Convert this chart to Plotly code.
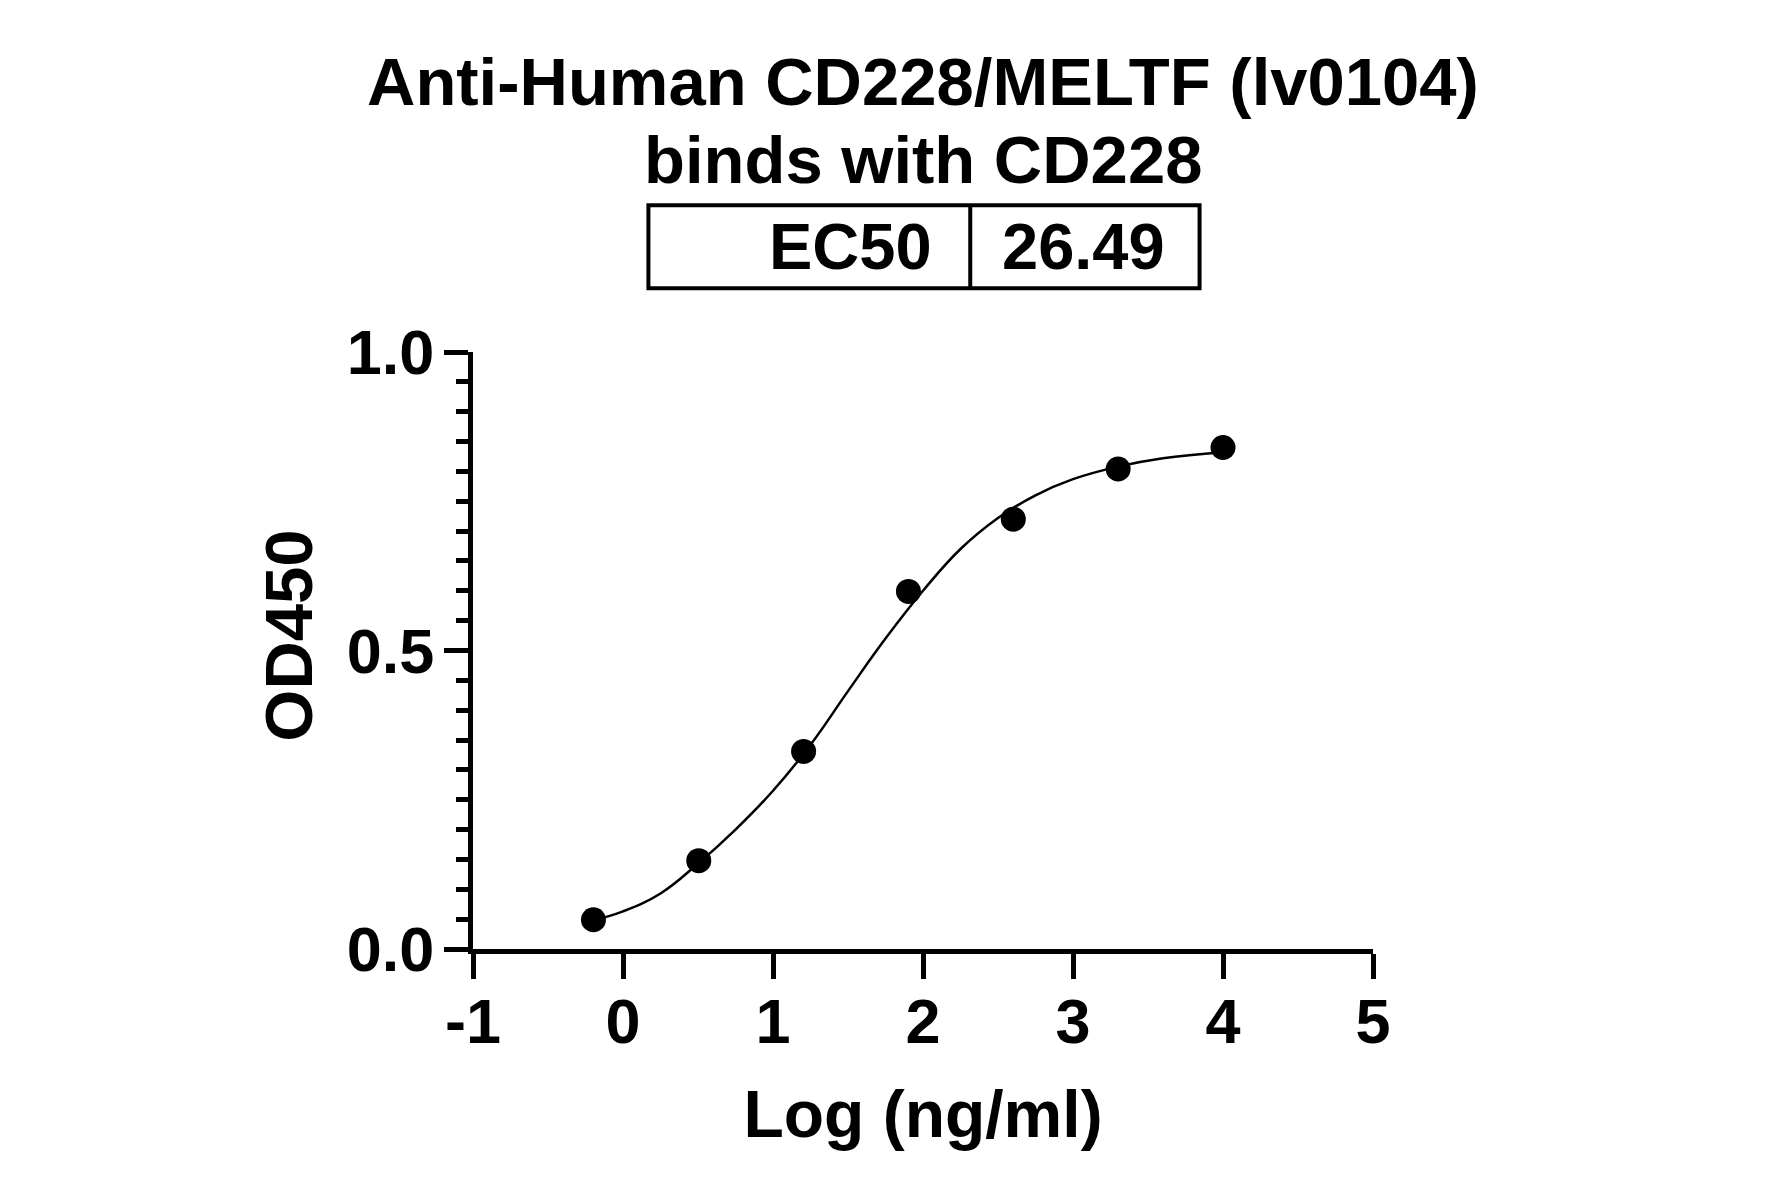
import plotly.graph_objects as go

# measured points, log10 concentration (ng/ml) vs OD450
log_conc = [-0.197, 0.505, 1.204, 1.903, 2.602, 3.301, 4.0]
od450 = [0.049, 0.148, 0.331, 0.599, 0.720, 0.804, 0.840]

# fitted curve
fit_x = [-0.2, 0.0, 0.25, 0.5, 0.75, 1.0, 1.25, 1.5, 1.75, 2.0, 2.25, 2.5, 2.75, 3.0, 3.3, 3.6, 4.0]
fit_y = [0.048, 0.063, 0.093, 0.143, 0.2, 0.265, 0.342, 0.432, 0.52, 0.6, 0.67, 0.722, 0.76, 0.787, 0.808, 0.822, 0.832]

title_lines = ["Anti-Human CD228/MELTF (lv0104)", "binds with CD228"]
ec50_label = "EC50"
ec50_value = "26.49"

x_ticks = [-1, 0, 1, 2, 3, 4, 5]
y_ticks = [0.0, 0.5, 1.0]

FONT = "Liberation Sans, Arial, sans-serif"
BLACK = "#000000"

fig = go.Figure()
fig.add_trace(go.Scatter(
    x=fit_x, y=fit_y, mode="lines",
    line=dict(color=BLACK, width=2.5, shape="spline", smoothing=1.2),
    hoverinfo="skip", showlegend=False,
))
fig.add_trace(go.Scatter(
    x=log_conc, y=od450, mode="markers",
    marker=dict(color=BLACK, size=25, line=dict(width=0)),
    showlegend=False,
))

# page body adds 8px, so margins are taken 8px smaller on the top/left
fig.update_layout(
    width=1781, height=1197,
    margin=dict(l=465, r=415.5, t=344, b=255.5),
    paper_bgcolor="white", plot_bgcolor="white",
    font=dict(family=FONT, color=BLACK, size=60, weight="bold"),
    showlegend=False,
)

fig.update_xaxes(
    range=[-1, 5], tickvals=x_ticks, ticktext=[str(v) for v in x_ticks],
    showgrid=False, zeroline=False,
    showline=True, linecolor=BLACK, linewidth=5,
    ticks="outside", ticklen=25, tickwidth=5, tickcolor=BLACK,
    tickfont=dict(family=FONT, size=63, weight="bold"),
    ticklabelstandoff=-12,
    title=dict(text="Log (ng/ml)", font=dict(family=FONT, size=66, weight="bold"), standoff=38),
)
fig.update_yaxes(
    range=[0, 1.0], tickvals=y_ticks, ticktext=[f"{v:.1f}" for v in y_ticks],
    showgrid=False, zeroline=False,
    showline=True, linecolor=BLACK, linewidth=5,
    ticks="outside", ticklen=24, tickwidth=5, tickcolor=BLACK,
    minor=dict(ticks="outside", dtick=0.05, ticklen=12, tickwidth=5, tickcolor=BLACK),
    tickfont=dict(family=FONT, size=63, weight="bold"),
    ticklabelstandoff=-3,
)

# EC50 box above the plot
fig.add_shape(type="rect", xref="paper", yref="paper",
              x0=0.1949, x1=0.8073, y0=1.1066, y1=1.246,
              line=dict(color=BLACK, width=4), fillcolor="white")
fig.add_shape(type="line", xref="paper", yref="paper",
              x0=0.5525, x1=0.5525, y0=1.1066, y1=1.246,
              line=dict(color=BLACK, width=4))

annotations = [
    dict(text=title_lines[0], x=0.5, y=1.4523, size=67),
    dict(text=title_lines[1], x=0.5, y=1.323, size=67),
    dict(text=ec50_label, x=0.5125, y=1.1766, xanchor="right"),
    dict(text=ec50_value, x=0.5852, y=1.1766, xanchor="left"),
    dict(text="OD450", x=-0.2045, y=0.5247, size=67, angle=-90),
]
for a in annotations:
    fig.add_annotation(
        xref="paper", yref="paper", showarrow=False,
        xanchor=a.get("xanchor", "center"), yanchor="middle",
        x=a["x"], y=a["y"], text=a["text"], textangle=a.get("angle", 0),
        font=dict(family=FONT, size=a.get("size", 65), weight="bold", color=BLACK),
    )

fig.write_html("out.html")
